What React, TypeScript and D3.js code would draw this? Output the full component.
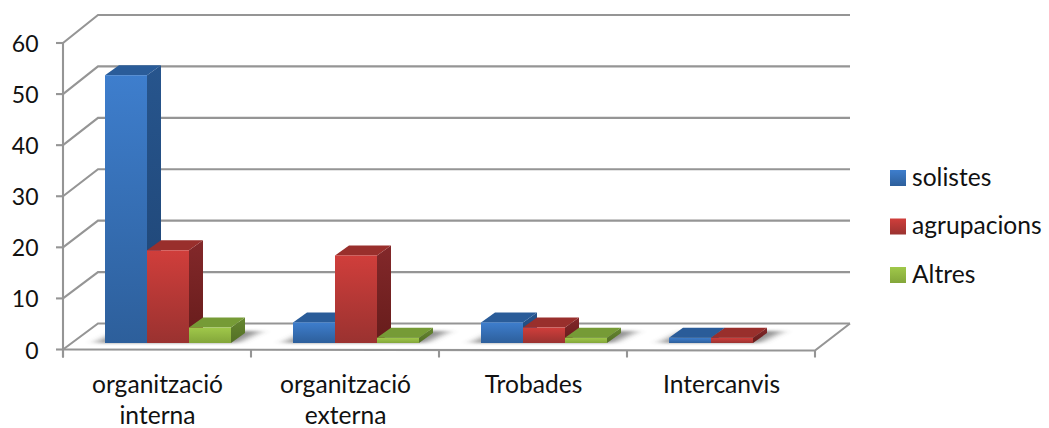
import React from "react";
import * as d3 from "d3";

const categories = ["organització interna", "organització externa", "Trobades", "Intercanvis"];
const categoryLines = [["organització", "interna"], ["organització", "externa"], ["Trobades"], ["Intercanvis"]];
const seriesNames = ["solistes", "agrupacions", "Altres"];
const solistes = [52, 4, 4, 1];
const agrupacions = [18, 17, 3, 1];
const altres = [3, 1, 1, 0];
const seriesValues = [solistes, agrupacions, altres];
const yTicks = [0, 10, 20, 30, 40, 50, 60];

const palette = [
  { id: "b", top: "#3e7ecd", bottom: "#2d5f9b", roof: "#2a5c99", sideTop: "#27558d", sideBottom: "#1e4473" },
  { id: "r", top: "#d03e3b", bottom: "#9a3230", roof: "#992f2c", sideTop: "#83282a", sideBottom: "#661c1b" },
  { id: "g", top: "#a0c84a", bottom: "#83a63a", roof: "#769b36", sideTop: "#668730", sideBottom: "#536f26" },
];

const FONT = "Lato, 'Noto Sans', sans-serif";
const TEXT = "#111";
const GRID = "#959595";

// plot geometry
const frontLeft = 63;
const frontRight = 815;
const backDx = 35;
const depthDx = 14;
const depthDy = 10;
const barW = 42;

const xCat = d3.scaleBand<number>().domain(d3.range(categories.length)).range([frontLeft, frontRight]);
const yFront = d3.scaleLinear().domain([0, 60]).range([349.5, 43]);
const yBack = d3.scaleLinear().domain([0, 60]).range([323.5, 15]);
const yBar = d3.scaleLinear().domain([0, 60]).range([343, 34]);

const barX = (cat: number, s: number) => (xCat(cat) as number) + 42 + s * barW;

export default function App() {
  return (
    <svg width={1049} height={428} style={{ position: "absolute", left: 0, top: 0, background: "#fff" }} fontFamily={FONT}>
      <defs>
        {palette.map((p) => (
          <React.Fragment key={p.id}>
            <linearGradient id={p.id + "F"} x1="0" y1="0" x2="0" y2="1">
              <stop offset="0" stopColor={p.top} />
              <stop offset="1" stopColor={p.bottom} />
            </linearGradient>
            <linearGradient id={p.id + "S"} x1="0" y1="0" x2="0" y2="1">
              <stop offset="0" stopColor={p.sideTop} />
              <stop offset="1" stopColor={p.sideBottom} />
            </linearGradient>
          </React.Fragment>
        ))}
        <filter id="blur" x="-30%" y="-100%" width="160%" height="300%">
          <feGaussianBlur stdDeviation="6 1.5" />
        </filter>
        <filter id="lineShadow" x="-5%" y="-5%" width="110%" height="110%">
          <feGaussianBlur stdDeviation="0.5" />
        </filter>
      </defs>

      {/* walls and gridlines */}
      <g fill="none" stroke={GRID} strokeWidth={2.1} filter="url(#lineShadow)">
        {yTicks.map((t) => (
          <polyline
            key={t}
            points={[
              [frontLeft, yFront(t)],
              [frontLeft + backDx, yBack(t)],
              [frontRight + backDx, yBack(t)],
            ].join(" ")}
          />
        ))}
        <line x1={frontLeft} x2={frontLeft} y1={yFront(60)} y2={yFront(0) + 8} />
        <polyline points={[[frontLeft, yFront(0)], [frontRight, yFront(0) + 1], [frontRight + backDx, yBack(0)]].join(" ")} />
        {yTicks.map((t) => (
          <line key={t} x1={frontLeft - 7} x2={frontLeft} y1={yFront(t)} y2={yFront(t)} />
        ))}
        {d3.range(categories.length + 1).map((i) => {
          const x = i < categories.length ? (xCat(i) as number) : frontRight;
          return <line key={i} x1={x} x2={x} y1={yFront(0) + 0.5} y2={yFront(0) + 8} />;
        })}
      </g>

      {/* floor shadows */}
      <g filter="url(#blur)" fill="#444" opacity={0.6}>
        {categories.map((_, c) => {
          const n = seriesValues.filter((v) => v[c] > 0).length;
          const x0 = barX(c, 0);
          const x1 = barX(c, n);
          return (
            <polygon
              key={c}
              points={[
                [x0 - 10, yBar(0)],
                [x1 + 6, yBar(0)],
                [x1 + depthDx + 16, yBar(0) - depthDy - 2],
                [x0 + depthDx, yBar(0) - depthDy - 2],
              ].join(" ")}
            />
          );
        })}
      </g>

      {/* bars */}
      {categories.map((_, c) =>
        seriesValues.map((vals, s) => {
          const v = vals[c];
          if (v <= 0) return null;
          const p = palette[s];
          const x = barX(c, s);
          const yt = yBar(v);
          const yb = yBar(0);
          return (
            <g key={c + "-" + s}>
              <polygon
                fill={`url(#${p.id}S)`}
                points={[[x + barW, yt], [x + barW + depthDx, yt - depthDy], [x + barW + depthDx, yb - depthDy], [x + barW, yb]].join(" ")}
              />
              <polygon
                fill={p.roof}
                points={[[x, yt], [x + depthDx, yt - depthDy], [x + barW + depthDx, yt - depthDy], [x + barW, yt]].join(" ")}
              />
              <rect x={x} y={yt} width={barW} height={yb - yt} fill={`url(#${p.id}F)`} />
            </g>
          );
        })
      )}

      {/* y labels */}
      <g fontSize={23} fill={TEXT} textAnchor="end">
        {yTicks.map((t) => (
          <text key={t} x={38.5} y={yFront(t) + 9}>
            {t}
          </text>
        ))}
      </g>

      {/* x labels */}
      <g fontSize={24.6} fill={TEXT} textAnchor="middle">
        {categoryLines.map((lines, c) =>
          lines.map((l, i) => (
            <text key={c + l} x={(xCat(c) as number) + 94.5} y={393 + i * 31}>
              {l}
            </text>
          ))
        )}
      </g>

      {/* legend */}
      <g fontSize={24.6} fill={TEXT}>
        {seriesNames.map((n, i) => {
          const y = 170 + i * 48.5;
          return (
            <g key={n}>
              <rect x={890} y={y} width={16} height={16} fill={`url(#${palette[i].id}F)`} />
              <text x={912} y={y + 15.5}>
                {n}
              </text>
            </g>
          );
        })}
      </g>
    </svg>
  );
}
